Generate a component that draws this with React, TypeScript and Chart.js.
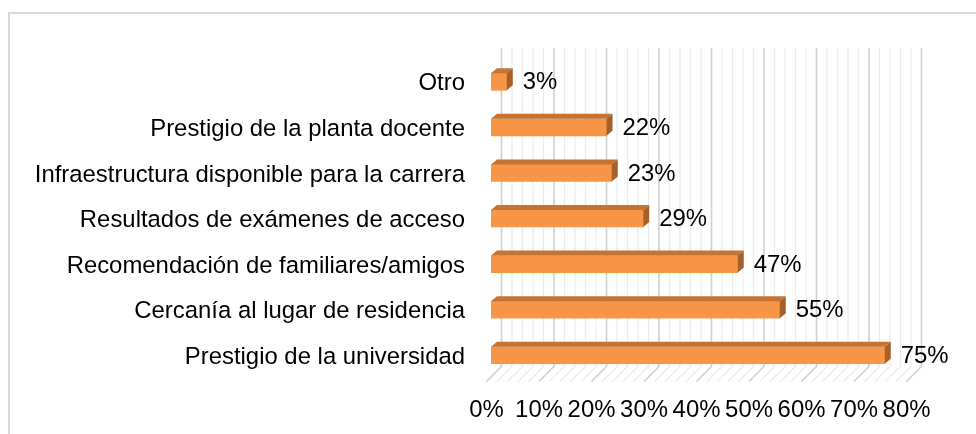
import React, { useEffect, useRef } from "react";
import { Chart, registerables } from "chart.js";

Chart.register(...registerables);

const categories = [
  "Otro",
  "Prestigio de la planta docente",
  "Infraestructura disponible para la carrera",
  "Resultados de exámenes de acceso",
  "Recomendación de familiares/amigos",
  "Cercanía al lugar de residencia",
  "Prestigio de la universidad",
];
const values = [3, 22, 23, 29, 47, 55, 75];
const xMin = 0;
const xMax = 80;
const xStep = 10;
const minorStep = 2;

const FONT = "'Liberation Sans', Arial, sans-serif";
const FSIZE = 23.9;
const FRONT = "#F79646";
const TOP = "#C47535";
const SIDE = "#A6602A";

const frame3d = {
  id: "frame3d",
  beforeDraw(chart: any) {
    const ctx = chart.ctx;
    ctx.save();
    ctx.strokeStyle = "#D9D9D9";
    ctx.lineWidth = 2;
    ctx.beginPath();
    ctx.moveTo(9, chart.height + 5);
    ctx.lineTo(9, 13);
    ctx.lineTo(chart.width + 5, 13);
    ctx.stroke();
    ctx.restore();
  },
  beforeDatasetsDraw(chart: any) {
    const ctx = chart.ctx;
    const xs = chart.scales.x;
    const { top, bottom } = chart.chartArea;
    const frontY = bottom + 3.5;
    const backY = bottom - 11.5;
    const wallTop = top - 11;
    ctx.save();
    for (let v = xMin; v <= xMax; v += minorStep) {
      const major = v % xStep === 0;
      const px = xs.getPixelForValue(v);
      const fx = px - 4.5;
      const bx = px + 10.5;
      ctx.strokeStyle = major ? "#D0D0D0" : "#EBEBEB";
      ctx.lineWidth = major ? 1.6 : 1.2;
      ctx.beginPath();
      ctx.moveTo(bx, wallTop);
      ctx.lineTo(bx, backY);
      ctx.lineTo(fx, frontY);
      ctx.stroke();
    }
    ctx.restore();
  },
  afterDatasetsDraw(chart: any) {
    const ctx = chart.ctx;
    const meta = chart.getDatasetMeta(0);
    const dx = 6;
    const dy = 5;
    ctx.save();
    meta.data.forEach((bar: any, i: number) => {
      const { x, y, base, height } = bar.getProps(["x", "y", "base", "height"], true);
      const t = y - height / 2;
      const b = y + height / 2;
      ctx.fillStyle = TOP;
      ctx.beginPath();
      ctx.moveTo(base, t);
      ctx.lineTo(x, t);
      ctx.lineTo(x + dx, t - dy);
      ctx.lineTo(base + dx, t - dy);
      ctx.closePath();
      ctx.fill();
      ctx.fillStyle = SIDE;
      ctx.beginPath();
      ctx.moveTo(x, t);
      ctx.lineTo(x + dx, t - dy);
      ctx.lineTo(x + dx, b - dy);
      ctx.lineTo(x, b);
      ctx.closePath();
      ctx.fill();
      ctx.fillStyle = "#000";
      ctx.font = `${FSIZE}px ${FONT}`;
      ctx.textAlign = "left";
      ctx.textBaseline = "middle";
      ctx.fillText(values[i] + "%", x + dx + 10, y + 1);
    });
    ctx.restore();
  },
};

export default function App() {
  const ref = useRef<HTMLCanvasElement | null>(null);
  useEffect(() => {
    document.body.style.margin = "0";
    const canvas = ref.current;
    if (!canvas) return;
    const chart = new Chart(canvas, {
      type: "bar",
      data: {
        labels: categories,
        datasets: [
          {
            data: values,
            backgroundColor: FRONT,
            borderWidth: 0,
            barThickness: 17,
          },
        ],
      },
      options: {
        indexAxis: "y",
        responsive: true,
        maintainAspectRatio: false,
        animation: false,
        layout: { padding: { top: 59, right: 65, bottom: 0, left: 0 } },
        plugins: {
          legend: { display: false },
          tooltip: { enabled: false },
        },
        scales: {
          x: {
            min: xMin,
            max: xMax,
            grid: { display: false, drawTicks: false },
            border: { display: false },
            ticks: {
              stepSize: xStep,
              padding: 18,
              labelOffset: -4.5,
              color: "#000",
              font: { family: FONT, size: FSIZE },
              maxRotation: 0,
              autoSkip: false,
              callback: (v: any) => v + "%",
            },
            afterFit: (s: any) => {
              s.height = 56;
            },
          },
          y: {
            grid: { display: false, drawTicks: false },
            border: { display: false },
            ticks: {
              padding: 26,
              labelOffset: 2,
              color: "#000",
              font: { family: FONT, size: FSIZE },
              autoSkip: false,
            },
            afterFit: (s: any) => {
              s.width = 491;
            },
          },
        },
      },
      plugins: [frame3d],
    });
    return () => chart.destroy();
  }, []);
  return (
    <div style={{ width: 976, height: 434, position: "relative" }}>
      <canvas ref={ref} />
    </div>
  );
}
